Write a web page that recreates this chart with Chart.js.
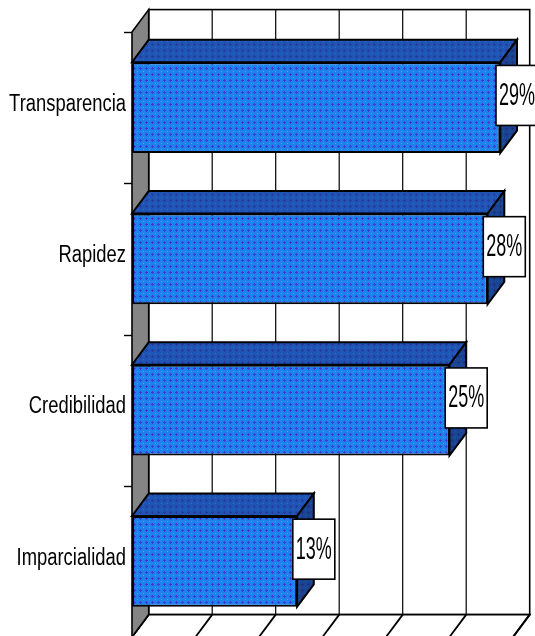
<!DOCTYPE html>
<html>
<head>
<meta charset="utf-8">
<script src="https://cdn.jsdelivr.net/npm/chart.js@4/dist/chart.umd.min.js"></script>
<style>
  html, body { margin: 0; padding: 0; background: #fff; overflow: hidden; width: 535px; height: 636px; }
  canvas { display: block; }
</style>
</head>
<body>
<canvas id="chart" width="535" height="638"></canvas>
<script>
// Categories and shares (percent)
const categories = ['Transparencia', 'Rapidez', 'Credibilidad', 'Imparcialidad'];
const shares = [29, 28, 25, 13];
const axisMax = 30;
const axisStep = 5;

// Depth of the 3D box: offset of the back plane from the front plane
const DX = 16.7, DY = 22.4;

// Small textured tile used as fill for the bar faces
function makePattern(base, cross, dot) {
  const t = document.createElement('canvas');
  t.width = 6; t.height = 6;
  const g = t.getContext('2d');
  g.fillStyle = base; g.fillRect(0, 0, 6, 6);
  g.fillStyle = cross;
  g.fillRect(2, 1, 1, 3); g.fillRect(1, 2, 3, 1);
  g.fillStyle = dot;
  g.fillRect(5, 5, 1, 1);
  return g.createPattern(t, 'repeat');
}
const frontFill = makePattern('#1f82ec', '#3d3bd2', '#34b0ff');
const topFill   = makePattern('#1f55b4', '#283a9a', '#3470c8');
const sideFill  = makePattern('#1a4494', '#22307a', '#2a58a8');

const boxPlugin = {
  id: 'box3d',
  beforeDatasetsDraw(chart) {
    const { ctx, chartArea: a, scales: { x, y } } = chart;
    ctx.save();
    ctx.lineJoin = 'miter';
    // back wall
    ctx.fillStyle = '#fff';
    ctx.strokeStyle = '#000';
    ctx.lineWidth = 1.6;
    ctx.fillRect(a.left + DX, a.top - DY, a.right - a.left, a.bottom - a.top);
    ctx.strokeRect(a.left + DX, a.top - DY, a.right - a.left, a.bottom - a.top);
    // vertical gridlines on the back wall
    ctx.lineWidth = 1.2;
    for (let v = axisStep; v < axisMax; v += axisStep) {
      const px = x.getPixelForValue(v) + DX;
      ctx.beginPath();
      ctx.moveTo(px, a.top - DY);
      ctx.lineTo(px, a.bottom - DY);
      ctx.stroke();
    }
    // floor
    ctx.beginPath();
    ctx.moveTo(a.left, a.bottom);
    ctx.lineTo(a.left + DX, a.bottom - DY);
    ctx.lineTo(a.right + DX, a.bottom - DY);
    ctx.lineTo(a.right, a.bottom);
    ctx.closePath();
    ctx.fillStyle = '#fff';
    ctx.fill();
    ctx.lineWidth = 1.8;
    ctx.stroke();
    for (let v = 0; v <= axisMax; v += axisStep) {
      const px = x.getPixelForValue(v);
      ctx.beginPath();
      ctx.moveTo(px + DX, a.bottom - DY);
      ctx.lineTo(px, a.bottom);
      ctx.stroke();
    }
    // left side wall
    ctx.beginPath();
    ctx.moveTo(a.left, a.top);
    ctx.lineTo(a.left + DX, a.top - DY);
    ctx.lineTo(a.left + DX, a.bottom - DY);
    ctx.lineTo(a.left, a.bottom);
    ctx.closePath();
    ctx.fillStyle = '#858585';
    ctx.fill();
    ctx.lineWidth = 1.6;
    ctx.stroke();
    // category tick marks
    ctx.lineWidth = 1.4;
    for (let i = 0; i <= categories.length; i++) {
      const py = Math.round(y.getPixelForValue(i - 0.5)) + 0.5;
      ctx.beginPath();
      ctx.moveTo(a.left - 8, py);
      ctx.lineTo(a.left, py);
      ctx.stroke();
    }
    // category labels (narrow face)
    ctx.fillStyle = '#000';
    ctx.font = '23px "Liberation Sans", Arial, sans-serif';
    ctx.textAlign = 'right';
    ctx.textBaseline = 'middle';
    categories.forEach((c, i) => {
      const py = y.getPixelForValue(i) - 3;
      ctx.save();
      ctx.translate(a.left - 6, py);
      ctx.scale(0.8, 1);
      ctx.fillText(c, 0, 0);
      ctx.restore();
    });
    ctx.restore();
  },
  afterDatasetsDraw(chart) {
    const { ctx } = chart;
    const meta = chart.getDatasetMeta(0);
    ctx.save();
    ctx.strokeStyle = '#000';
    ctx.lineWidth = 2;
    ctx.lineJoin = 'miter';
    meta.data.forEach((el) => {
      const p = el.getProps(['x', 'y', 'base', 'height'], true);
      const top = p.y - p.height / 2, bottom = p.y + p.height / 2;
      const x0 = p.base, x1 = p.x;
      // top face
      ctx.beginPath();
      ctx.moveTo(x0, top);
      ctx.lineTo(x0 + DX, top - DY);
      ctx.lineTo(x1 + DX, top - DY);
      ctx.lineTo(x1, top);
      ctx.closePath();
      ctx.fillStyle = topFill;
      ctx.fill();
      ctx.stroke();
      // end face
      ctx.beginPath();
      ctx.moveTo(x1, top);
      ctx.lineTo(x1 + DX, top - DY);
      ctx.lineTo(x1 + DX, bottom - DY);
      ctx.lineTo(x1, bottom);
      ctx.closePath();
      ctx.fillStyle = sideFill;
      ctx.fill();
      ctx.stroke();
    });
    // value labels in white boxes
    meta.data.forEach((el, i) => {
      const p = el.getProps(['x', 'y'], true);
      const cx = p.x + DX, cy = p.y - DY / 2 - 1;
      const w = 42, h = 60;
      ctx.fillStyle = '#fff';
      ctx.fillRect(cx - w / 2, cy - h / 2, w, h);
      ctx.lineWidth = 1.6;
      ctx.strokeRect(cx - w / 2, cy - h / 2, w, h);
      ctx.save();
      ctx.translate(cx, cy + 1);
      ctx.scale(0.58, 1);
      ctx.fillStyle = '#000';
      ctx.font = '31px "Liberation Sans", Arial, sans-serif';
      ctx.textAlign = 'center';
      ctx.textBaseline = 'middle';
      ctx.fillText(shares[i] + '%', 0, 0);
      ctx.restore();
    });
    ctx.restore();
  }
};

new Chart(document.getElementById('chart'), {
  type: 'bar',
  data: {
    labels: categories,
    datasets: [{
      data: shares,
      backgroundColor: frontFill,
      borderColor: '#000',
      borderWidth: 2,
      borderSkipped: false,
      barPercentage: 0.6,
      categoryPercentage: 1
    }]
  },
  options: {
    indexAxis: 'y',
    responsive: false,
    animation: false,
    layout: { padding: { left: 132, right: 22, top: 32, bottom: 1 } },
    plugins: { legend: { display: false }, tooltip: { enabled: false } },
    scales: {
      x: { display: false, min: 0, max: axisMax, ticks: { stepSize: axisStep } },
      y: { display: false, offset: true }
    }
  },
  plugins: [boxPlugin]
});
</script>
</body>
</html>
